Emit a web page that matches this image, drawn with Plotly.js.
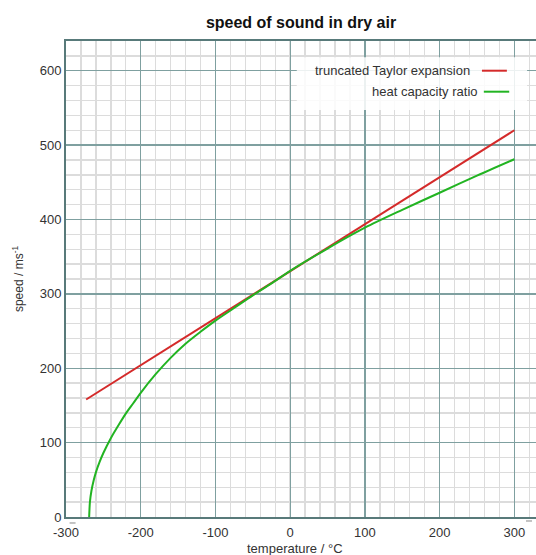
<!DOCTYPE html>
<html>
<head>
<meta charset="utf-8">
<script src="https://cdn.plot.ly/plotly-3.0.1.min.js"></script>
<style>html,body{margin:0;padding:0;background:#fff;}#chart{width:536px;height:555px;}</style>
</head>
<body>
<div id="chart"></div>
<script>
// Data
const taylorTemp = [-273, -200, -100, 0, 100, 200, 300];
const taylorSpeed = [158, 204, 268, 331, 394, 457, 520];

const gammaTemp = [-269, -268, -266, -263, -260, -255, -250, -240, -230, -220, -210, -200, -180, -160, -140, -120, -100, -75, -50, -25, 0, 50, 100, 150, 200, 250, 300];
const gammaSpeed = [0, 20, 35, 49, 60, 74, 86, 106, 123, 139, 153, 167, 192, 214, 233, 249, 264, 281, 298, 314, 331, 361, 389, 413, 436, 459, 481];

const seriesNames = ["truncated Taylor expansion", "heat capacity ratio"];
const seriesColors = ["#d42a2a", "#22b422"];

const xTickVals = [-300, -200, -100, 0, 100, 200, 300];
const xTickText = ["-300", "-200", "-100", "0", "100", "200", "300"];
const yTickVals = [0, 100, 200, 300, 400, 500, 600];
const yTickText = ["0", "100", "200", "300", "400", "500", "600"];

const FONT = '"Liberation Sans", Arial, sans-serif';

const traces = [
  {x: taylorTemp, y: taylorSpeed, mode: 'lines', name: seriesNames[0],
   line: {color: seriesColors[0], width: 2}},
  {x: gammaTemp, y: gammaSpeed, mode: 'lines', name: seriesNames[1],
   line: {color: seriesColors[1], width: 2, shape: 'spline', smoothing: 0.8}}
];

const layout = {
  width: 536, height: 555,
  margin: {l: 66, r: 0, t: 41, b: 38},
  paper_bgcolor: '#fff', plot_bgcolor: '#fff',
  font: {family: FONT, size: 13, color: '#333'},
  showlegend: false,
  title: {text: '<b>speed of sound in dry air</b>', x: 0.5, xref: 'paper', y: 0.96, yref: 'container', yanchor: 'middle',
          font: {family: FONT, size: 16, color: '#111'}},
  xaxis: {
    range: [-300, 329], tickmode: 'array', tickvals: xTickVals, ticktext: xTickText,
    showgrid: true, gridcolor: '#7fa0a0', gridwidth: 1.3,
    minor: {tickmode: 'linear', tick0: -300, dtick: 20, showgrid: true, gridcolor: '#dcdcdc', gridwidth: 1.4},
    showline: true, linecolor: '#587a7a', linewidth: 2, mirror: true,
    zeroline: false, ticks: '', ticklabelstandoff: 2,
    tickfont: {family: FONT, size: 13, color: '#333'}
  },
  yaxis: {
    range: [0, 640], tickmode: 'array', tickvals: yTickVals, ticktext: yTickText,
    showgrid: true, gridcolor: '#7fa0a0', gridwidth: 1.3,
    minor: {tickmode: 'linear', tick0: 0, dtick: 20, showgrid: true, gridcolor: '#dcdcdc', gridwidth: 1.4},
    showline: true, linecolor: '#587a7a', linewidth: 2, mirror: true,
    zeroline: false, ticks: '',
    tickfont: {family: FONT, size: 13, color: '#333'}
  },
  shapes: [
    {type: 'rect', xref: 'paper', yref: 'paper', x0: 0.491, x1: 0.981, y0: 0.855, y1: 0.966,
     fillcolor: 'rgba(255,255,255,0.85)', line: {width: 0}, layer: 'above'},
    {type: 'line', xref: 'paper', yref: 'paper', x0: 0.885, x1: 0.938, y0: 0.9376, y1: 0.9376,
     line: {color: seriesColors[0], width: 2}, layer: 'above'},
    {type: 'line', xref: 'paper', yref: 'paper', x0: 0.889, x1: 0.943, y0: 0.8935, y1: 0.8935,
     line: {color: seriesColors[1], width: 2}, layer: 'above'},
    {type: 'line', xref: 'paper', yref: 'paper', x0: 0.0077, x1: 0.0204, y0: -0.0126, y1: -0.0126,
     line: {color: '#888', width: 1}},
    {type: 'line', xref: 'paper', yref: 'paper', x0: 0.9787, x1: 0.9915, y0: -0.0084, y1: -0.0084,
     line: {color: '#888', width: 1}}
  ],
  annotations: [
    {text: seriesNames[0], xref: 'paper', yref: 'paper', x: 0.8638, y: 0.9376, xanchor: 'right', yanchor: 'middle',
     showarrow: false, font: {family: FONT, size: 13, color: '#333'}},
    {text: seriesNames[1], xref: 'paper', yref: 'paper', x: 0.8798, y: 0.8935, xanchor: 'right', yanchor: 'middle',
     showarrow: false, font: {family: FONT, size: 13, color: '#333'}},
    {text: 'temperature / °C', xref: 'paper', yref: 'paper', x: 0.487, y: -0.067, xanchor: 'center', yanchor: 'middle',
     showarrow: false, font: {family: FONT, size: 13, color: '#333'}},
    {text: 'speed / ms<sup>-1</sup>', xref: 'paper', yref: 'paper', x: -0.102, y: 0.5, xanchor: 'center', yanchor: 'middle',
     textangle: -90, showarrow: false, font: {family: FONT, size: 12, color: '#333'}}
  ]
};

Plotly.newPlot('chart', traces, layout, {displayModeBar: false, staticPlot: true});
</script>
</body>
</html>
